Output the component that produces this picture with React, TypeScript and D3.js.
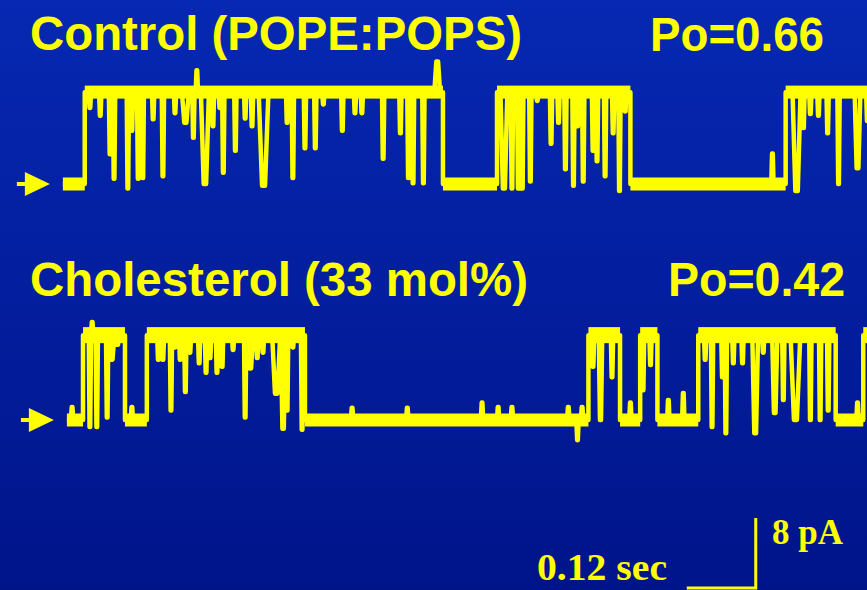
import { useEffect } from "react";
import * as d3 from "d3";

// time in ms, current in pA
const traceDomainMs = [0, 1400];

// Control (POPE:POPS)
const controlStart = 5;
const controlEnd = 1410;
const controlOpenPA = 10.5;
const controlBursts: [number, number][] = [
  [43, 666],
  [760, 992],
  [1262, 1410],
];
// [time, width, level reached]
const controlEvents: [number, number, number][] = [
  [52, 4, 8.7], [70, 4, 7.8], [87, 4, 3.4], [94, 4, 0.6], [118, 4, -0.5],
  [125, 4, 6.1], [136, 4, 0.6], [144, 4, 0.7], [162, 4, 7.4], [179, 4, 0.9],
  [200, 4, 8.1], [218, 12, 7.0], [232, 4, 5.3], [238, 4, 13], [252, 14, 0],
  [266, 4, 6.6], [278, 4, 8.7], [284, 4, 1.3], [305, 4, 3.8], [322, 4, 7.5],
  [334, 4, 6.6], [354, 17, -0.2], [395, 4, 7.0], [405, 4, 0.7], [426, 4, 4.1],
  [444, 4, 4.1], [458, 4, 9.1], [491, 4, 6.1], [513, 4, 8.1], [525, 4, 8.1],
  [562, 4, 2.9], [592, 4, 5.8], [606, 4, 0.7], [614, 4, 0.1], [632, 4, 0.1],
  [656, 10, 14],
  [772, 12, -0.5], [786, 4, -0.5], [797, 4, -0.5], [804, 4, -0.5], [818, 4, 0.3],
  [830, 4, 9.5], [854, 4, 4.6], [867, 4, 7.0], [879, 4, 1.7], [893, 4, -0.2],
  [900, 4, 6.6], [910, 4, 0.3], [927, 4, 3.8], [934, 4, 2.6], [948, 4, 0.9],
  [962, 4, 5.8], [973, 4, -0.8], [983, 4, 8.3],
  [1239, 4, 3.5],
  [1281, 14, -0.8], [1293, 4, 6.4], [1305, 4, 8.0], [1319, 4, 7.8], [1335, 4, 5.8],
  [1354, 4, 0], [1387, 10, 1.8], [1404, 4, 7.2],
];

// Cholesterol (33 mol%)
const cholStart = 12;
const cholEnd = 1410;
const cholOpenPA = 9.7;
const cholBursts: [number, number][] = [
  [40, 113],
  [151, 426],
  [919, 974],
  [1009, 1039],
  [1110, 1349],
  [1397, 1410],
];
const cholEvents: [number, number, number][] = [
  [21, 4, 1.5], [52, 4, -0.8], [56, 4, 11.2], [64, 4, -0.8], [82, 4, 0.3],
  [90, 9, 6.9], [100, 6, 8.6], [125, 4, 1.5],
  [171, 4, 6.9], [179, 4, 6.9], [193, 4, 1.1], [200, 5, 8.3], [209, 4, 6.9],
  [218, 4, 3.2], [226, 4, 7.7], [242, 4, 6.5], [254, 4, 5.4], [261, 4, 7.1],
  [273, 4, 5.4], [282, 4, 6.1], [301, 4, 8.0], [322, 4, 0.3], [331, 9, 5.9],
  [343, 4, 7.1], [353, 4, 7.7], [376, 14, 3.0], [388, 8, -1], [395, 4, 1.1],
  [405, 4, 8.3], [421, 4, -1.1],
  [508, 4, 1.4], [604, 4, 1.4], [734, 4, 2.0], [762, 4, 1.5], [786, 4, 1.5],
  [884, 4, 1.5], [900, 4, -2.3], [908, 4, 1.5],
  [927, 4, 6.1], [940, 6, 0], [960, 4, 4.9],
  [992, 4, 2],
  [1014, 4, 3.4], [1027, 4, 6.3],
  [1058, 4, 2.3], [1084, 4, 3.1],
  [1122, 4, 6.9], [1134, 4, -0.8], [1152, 4, 4.9], [1158, 4, -1.5], [1171, 4, 6.5],
  [1187, 4, 6.5], [1209, 10, -1.5], [1223, 4, 7.7], [1243, 9, 0.8], [1258, 4, 2.3],
  [1279, 17, 0], [1305, 4, 0], [1322, 4, 0], [1336, 4, 1.1],
  [1387, 4, 2.0],
];

// scale bar
const scaleBarMs = [1090, 1210];
const scaleBarPA = 8;

const YELLOW = "#ffff00";

type Pt = [number, number];

function buildTrace(
  start: number,
  end: number,
  bursts: [number, number][],
  events: [number, number, number][],
  openLevel: number
) {
  const baseAt = (t: number) =>
    bursts.some(([a, b]) => t >= a && t < b) ? openLevel : 0;
  const items: { t: number; edge: boolean; w?: number; lvl?: number }[] = [
    ...bursts.flatMap(([a, b]) => [
      { t: a, edge: true },
      { t: b, edge: true },
    ]),
    ...events.map(([t, w, lvl]) => ({ t, edge: false, w, lvl })),
  ].filter((d) => d.t > start && d.t < end);
  items.sort((a, b) => a.t - b.t);

  const pts: Pt[] = [[start, baseAt(start)]];
  for (const it of items) {
    if (it.edge) {
      pts.push([it.t, baseAt(it.t - 0.01)]);
      pts.push([it.t, baseAt(it.t)]);
    } else {
      const base = baseAt(it.t);
      const h = (it.w as number) / 2;
      pts.push([it.t - h, base]);
      pts.push([it.t - h * 0.3, it.lvl as number]);
      pts.push([it.t + h * 0.3, it.lvl as number]);
      pts.push([it.t + h, base]);
    }
  }
  pts.push([end, baseAt(end - 0.01)]);

  // state segments for the noise band
  const edges = [start, ...bursts.flat().filter((t) => t > start && t < end), end];
  const segs: [number, number, number][] = [];
  for (let i = 0; i < edges.length - 1; i++) {
    segs.push([edges[i], edges[i + 1], baseAt((edges[i] + edges[i + 1]) / 2)]);
  }
  return { pts, segs };
}

function Trace({
  x,
  y,
  start,
  end,
  bursts,
  events,
  openLevel,
  openBand,
}: {
  x: d3.ScaleLinear<number, number>;
  y: d3.ScaleLinear<number, number>;
  start: number;
  end: number;
  bursts: [number, number][];
  events: [number, number, number][];
  openLevel: number;
  openBand: number;
}) {
  const { pts, segs } = buildTrace(start, end, bursts, events, openLevel);
  const line = d3
    .line<Pt>()
    .x((d) => x(d[0]))
    .y((d) => y(d[1]));
  const y0 = y(0);
  return (
    <g>
      {segs.map(([a, b, lvl], i) => {
        const band = lvl === 0 ? 13 : openBand;
        return (
          <rect
            key={i}
            x={x(a)}
            y={y(lvl) - band / 2}
            width={x(b) - x(a)}
            height={band}
            fill={YELLOW}
          />
        );
      })}
      <path
        d={line(pts) ?? ""}
        fill="none"
        stroke={YELLOW}
        strokeWidth={4.5}
        strokeLinejoin="round"
      />
      {/* closed-level arrow */}
      <g transform={`translate(${x(start) - 46}, ${y0})`}>
        <line x1={0} x2={12} y1={0} y2={0} stroke={YELLOW} strokeWidth={4} />
        <path d="M8,-12 L33,0 L8,12 Z" fill={YELLOW} />
      </g>
    </g>
  );
}

export default function App() {
  useEffect(() => {
    document.body.style.margin = "0";
  }, []);

  const W = 867;
  const H = 590;
  const x = d3.scaleLinear().domain(traceDomainMs).range([60, 865]);
  const y1 = d3.scaleLinear().domain([0, controlOpenPA]).range([184, 184 - controlOpenPA * 8.75]);
  const y2 = d3.scaleLinear().domain([0, cholOpenPA]).range([420, 420 - cholOpenPA * 8.75]);
  const yBar = d3.scaleLinear().domain([0, scaleBarPA]).range([588, 588 - scaleBarPA * 8.75]);

  const sans = "'Liberation Sans', Arial, sans-serif";
  const serif = "'Liberation Serif', 'Times New Roman', serif";
  const bx0 = x(scaleBarMs[0]);
  const bx1 = x(scaleBarMs[1]);

  return (
    <svg width={W} height={H} style={{ display: "block" }}>
      <defs>
        <linearGradient id="bg" x1="0" y1="0" x2="0" y2="1">
          <stop offset="0" stopColor="#0628b2" />
          <stop offset="1" stopColor="#00148a" />
        </linearGradient>
        <clipPath id="clip">
          <rect x={0} y={0} width={W} height={H} />
        </clipPath>
      </defs>
      <rect width={W} height={H} fill="url(#bg)" />

      <g fill={YELLOW} fontFamily={sans} fontWeight="bold" fontSize={48}>
        <text x={30} y={50} textLength={492} lengthAdjust="spacingAndGlyphs">
          Control (POPE:POPS)
        </text>
        <text x={650} y={51} textLength={174} lengthAdjust="spacingAndGlyphs">
          Po=0.66
        </text>
        <text x={30} y={296} textLength={498} lengthAdjust="spacingAndGlyphs">
          Cholesterol (33 mol%)
        </text>
        <text x={668} y={296} textLength={177} lengthAdjust="spacingAndGlyphs">
          Po=0.42
        </text>
      </g>

      <g clipPath="url(#clip)">
        <Trace
          x={x}
          y={y1}
          start={controlStart}
          end={controlEnd}
          bursts={controlBursts}
          events={controlEvents}
          openLevel={controlOpenPA}
          openBand={13}
        />
        <Trace
          x={x}
          y={y2}
          start={cholStart}
          end={cholEnd}
          bursts={cholBursts}
          events={cholEvents}
          openLevel={cholOpenPA}
          openBand={16}
        />
      </g>

      <g stroke={YELLOW} strokeWidth={3} fill="none">
        <path d={`M${bx0},${yBar(0)} H${bx1} V${yBar(scaleBarPA)}`} />
      </g>
      <g fill={YELLOW} fontFamily={serif} fontWeight="bold">
        <text x={772} y={544} fontSize={36} textLength={71} lengthAdjust="spacingAndGlyphs">
          8 pA
        </text>
        <text x={537} y={580} fontSize={37} textLength={130} lengthAdjust="spacingAndGlyphs">
          0.12 sec
        </text>
      </g>
    </svg>
  );
}
